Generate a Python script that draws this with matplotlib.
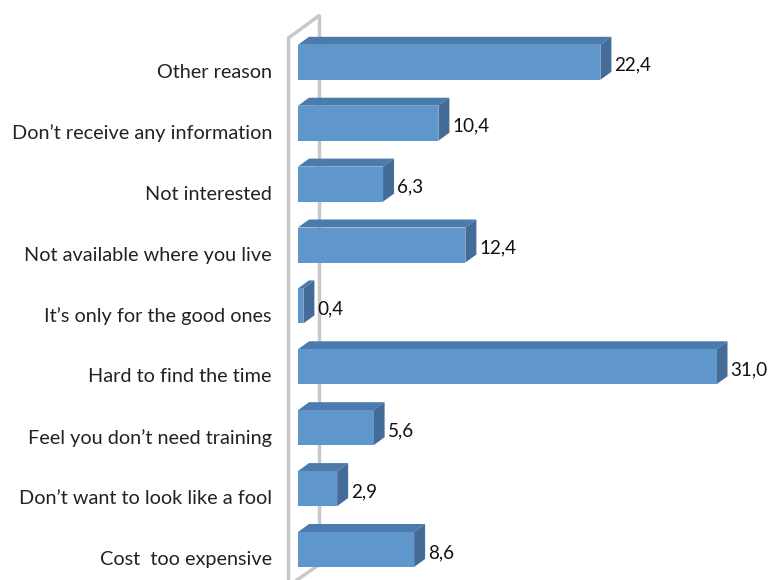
import matplotlib
matplotlib.use("Agg")
import matplotlib.pyplot as plt
from matplotlib.patches import Polygon

# bottom to top
categories = ["Cost  too expensive", "Don’t want to look like a fool",
              "Feel you don’t need training", "Hard to find the time",
              "It’s only for the good ones", "Not available where you live",
              "Not interested", "Don’t receive any information", "Other reason"]
values = [8.6, 2.9, 5.6, 31.0, 0.4, 12.4, 6.3, 10.4, 22.4]
value_labels = ["8,6", "2,9", "5,6", "31,0", "0,4", "12,4", "6,3", "10,4", "22,4"]

W, H = 768, 580
X0 = 298          # pixel of value 0
PX_UNIT = 13.5    # pixels per value unit
Y0 = 549.5        # pixel of the first category centre
PX_CAT = 60.9     # pixels between categories
DX, DY = 11, 8    # depth of the 3d effect, pixels
BAR_H = 35

FRONT = "#5F96CC"
TOP = "#4A7BAC"
SIDE = "#436C99"
WALL = "#C8C8C8"


def xpx(p):
    return (p - X0) / PX_UNIT


def ypx(p):
    return (Y0 - p) / PX_CAT


plt.rcParams["font.family"] = ["Lato", "DejaVu Sans"]

fig = plt.figure(figsize=(W / 100, H / 100), dpi=100)
ax = fig.add_axes([0, 0, 1, 1])
ax.set_xlim(xpx(0), xpx(W))
ax.set_ylim(ypx(H), ypx(0))
ax.axis("off")

dx = DX / PX_UNIT
dy = DY / PX_CAT
h = BAR_H / PX_CAT / 2

# wall: front edge with slanted top, back edge, slanted bottom
ax.plot([xpx(288.5), xpx(288.5), xpx(318.5)], [ypx(H), ypx(38), ypx(16)],
        color=WALL, lw=2.5, solid_joinstyle="miter", zorder=1)
ax.plot([xpx(318.5), xpx(318.5)], [ypx(16), ypx(565)],
        color=WALL, lw=2.5, zorder=1)
ax.plot([xpx(297), xpx(318.5)], [ypx(H), ypx(565)],
        color=WALL, lw=2.5, zorder=1)

for i, (v, cat, lab) in enumerate(zip(values, categories, value_labels)):
    ax.add_patch(Polygon([(0, i + h), (v, i + h), (v + dx, i + h + dy), (dx, i + h + dy)],
                         fc=TOP, ec="none", zorder=2))
    ax.add_patch(Polygon([(v, i - h), (v + dx, i - h + dy), (v + dx, i + h + dy), (v, i + h)],
                         fc=SIDE, ec="none", zorder=2))
    ax.add_patch(Polygon([(0, i - h), (v, i - h), (v, i + h), (0, i + h)],
                         fc=FRONT, ec="none", zorder=3))
    ax.text(xpx(272), i - 10 / PX_CAT, cat, ha="right", va="center",
            fontsize=14.3, color="#222222")
    ax.text(v + dx + 3 / PX_UNIT, i - 3 / PX_CAT, lab, ha="left", va="center",
            fontsize=13.6, color="#111111")

fig.savefig("out.png", dpi=100)
